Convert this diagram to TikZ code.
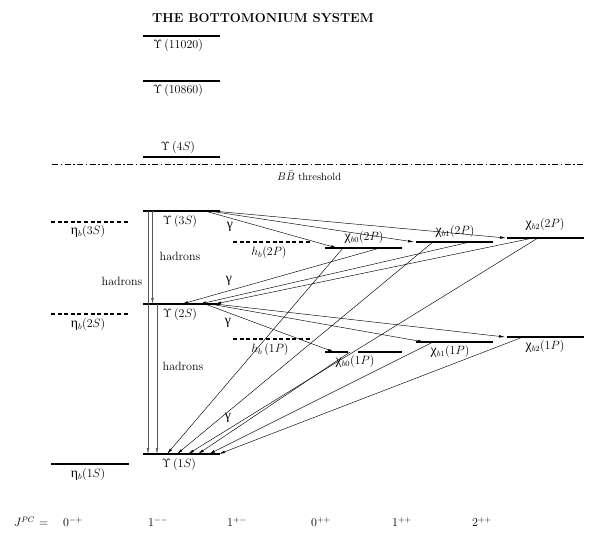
\documentclass[tikz,border=0pt]{standalone}
\usepackage{fontspec}
\newfontfamily\grk[Scale=1.15]{Liberation Serif}
\usetikzlibrary{arrows.meta,calc}
\tikzset{
  lvl/.style={line width=1.3pt},
  dlvl/.style={line width=1.3pt, dash pattern=on 4pt off 2.6pt},
  thr/.style={line width=0.6pt, dash pattern=on 6pt off 2.5pt on 1.5pt off 2.5pt},
  trans/.style={line width=0.45pt, -{Latex[length=6pt,width=2.6pt]}},
  had/.style={line width=0.4pt, draw=black!65, -{Latex[length=6pt,width=2.6pt]}},
  lab/.style={font=\fontsize{12}{14}\selectfont, inner sep=0pt},
  slab/.style={font=\fontsize{10.5}{12}\selectfont, inner sep=0pt},
  ttl/.style={font=\fontsize{13}{16}\selectfont\bfseries, inner sep=0pt},
}
\begin{document}
\begin{tikzpicture}[x=1pt,y=1pt]
\useasboundingbox (0,0) rectangle (595,542);
% ---- level coordinates
\coordinate (uAL) at (143,506); \coordinate (uAR) at (220,506);
\coordinate (uBL) at (143,461); \coordinate (uBR) at (220,461);
\coordinate (u4L) at (143,385); \coordinate (u4R) at (220,385);
\coordinate (thL) at (52,378);  \coordinate (thR) at (583,378);
\coordinate (u3L) at (143,331); \coordinate (u3R) at (220,331);
\coordinate (e3L) at (51,320);  \coordinate (e3R) at (129,320);
\coordinate (h2L) at (233,300); \coordinate (h2R) at (311,300);
\coordinate (c02L) at (325,294); \coordinate (c02R) at (402,294);
\coordinate (c12L) at (416,300); \coordinate (c12R) at (493,300);
\coordinate (c22L) at (507,304); \coordinate (c22R) at (584,304);
\coordinate (u2L) at (143,238); \coordinate (u2R) at (220,238);
\coordinate (e2L) at (51,228);  \coordinate (e2R) at (129,228);
\coordinate (h1L) at (233,203); \coordinate (h1R) at (310,203);
\coordinate (c01L) at (325,190); \coordinate (c01g) at (348,190);
\coordinate (c01h) at (358,190); \coordinate (c01R) at (402,190);
\coordinate (c11L) at (416,200); \coordinate (c11R) at (493,200);
\coordinate (c21L) at (507,205); \coordinate (c21R) at (584,205);
\coordinate (u1L) at (143,88);  \coordinate (u1R) at (220,88);
\coordinate (e1L) at (51,78);   \coordinate (e1R) at (129,78);
% ---- levels
\draw[lvl] (uAL) -- (uAR);
\draw[lvl] (uBL) -- (uBR);
\draw[lvl] (u4L) -- (u4R);
\draw[thr] (thL) -- (thR);
\draw[lvl] (u3L) -- (u3R);
\draw[dlvl] (e3L) -- (e3R);
\draw[dlvl] (h2L) -- (h2R);
\draw[lvl] (c02L) -- (c02R);
\draw[lvl] (c12L) -- (c12R);
\draw[lvl] (c22L) -- (c22R);
\draw[lvl] (u2L) -- (u2R);
\draw[dlvl] (e2L) -- (e2R);
\draw[dlvl] (h1L) -- (h1R);
\draw[lvl] (c01L) -- (c01g);
\draw[lvl] (c01h) -- (c01R);
\draw[lvl] (c11L) -- (c11R);
\draw[lvl] (c21L) -- (c21R);
\draw[lvl] (u1L) -- (u1R);
\draw[lvl] (e1L) -- (e1R);
% ---- transition end points
\coordinate (s3a) at (205,331); \coordinate (s3b) at (209,331); \coordinate (s3c) at (213,331);
\coordinate (t02) at (337,294); \coordinate (t12) at (414,300); \coordinate (t22) at (506,304);
\coordinate (f02) at (380,294); \coordinate (f12) at (470,300); \coordinate (f22) at (533,304);
\coordinate (a2a) at (182,238); \coordinate (a2b) at (200,238); \coordinate (a2c) at (215,238);
\coordinate (g02) at (343,294); \coordinate (g12) at (433,300); \coordinate (g22) at (538,304);
\coordinate (g01) at (350,190); \coordinate (g11) at (433,200); \coordinate (g21) at (523,205);
\coordinate (a1a) at (167,88); \coordinate (a1b) at (177,88); \coordinate (a1c) at (188,88);
\coordinate (a1d) at (198,88); \coordinate (a1e) at (209,88); \coordinate (a1f) at (219,88);
\coordinate (s2a) at (205,238); \coordinate (s2b) at (210,238); \coordinate (s2c) at (215,238);
\coordinate (t01) at (334,190); \coordinate (t11) at (424,200); \coordinate (t21) at (505,205);
\coordinate (v3a) at (148,331); \coordinate (v1a) at (148,88);
\coordinate (v3b) at (152.5,331); \coordinate (v2b) at (152.5,238);
\coordinate (v2c) at (157,238); \coordinate (v1c) at (157,88);
% ---- transitions
\draw[trans] (s3a) -- (t02);
\draw[trans] (s3b) -- (t12);
\draw[trans] (s3c) -- (t22);
\draw[trans] (f02) -- (a2a);
\draw[trans] (f12) -- (a2b);
\draw[trans] (f22) -- (a2c);
\draw[trans] (g02) -- (a1a);
\draw[trans] (g12) -- (a1b);
\draw[trans] (g22) -- (a1c);
\draw[trans] (g01) -- (a1d);
\draw[trans] (g11) -- (a1e);
\draw[trans] (g21) -- (a1f);
\draw[trans] (s2a) -- (t01);
\draw[trans] (s2b) -- (t11);
\draw[trans] (s2c) -- (t21);
\draw[had] (v3a) -- (v1a);
\draw[had] (v3b) -- (v2b);
\draw[had] (v2c) -- (v1c);
% ---- labels
\node[ttl, anchor=west] (title) at (152,524) {THE BOTTOMONIUM SYSTEM};
\node[lab] (luA) at (178,496) {$\Upsilon\,$(11020)};
\node[lab] (luB) at (178,451) {$\Upsilon\,$(10860)};
\node[lab] (lu4) at (178,394) {$\Upsilon\,$(4$S$)};
\node[slab, anchor=west] (lth) at (277,366) {$B\bar{B}$ threshold};
\node[lab] (lu3) at (180,320) {$\Upsilon\,$(3$S$)};
\node[lab] (le3) at (88,310) {{\grk η}$_b$(3$S$)};
\node[lab] (lh2) at (269,289) {$h_b$(2$P$)};
\node[lab] (lc02) at (364,304) {{\grk χ}$_{b0}$(2$P$)};
\node[lab] (lc12) at (455,310) {{\grk χ}$_{b1}$(2$P$)};
\node[lab] (lc22) at (545,317) {{\grk χ}$_{b2}$(2$P$)};
\node[lab] (lg1) at (230,315) {{\grk γ}};
\node[lab] (lhad1) at (180,286) {hadrons};
\node[lab] (lhad2) at (122,261) {hadrons};
\node[lab] (lg2) at (229,261) {{\grk γ}};
\node[lab] (lu2) at (180,227) {$\Upsilon\,$(2$S$)};
\node[lab] (le2) at (88,217) {{\grk η}$_b$(2$S$)};
\node[lab] (lg3) at (228,219) {{\grk γ}};
\node[lab] (lh1) at (270,192) {$h_b\,$(1$P$)};
\node[lab] (lc01) at (355,180) {{\grk χ}$_{b0}$(1$P$)};
\node[lab] (lc11) at (450,190) {{\grk χ}$_{b1}$(1$P$)};
\node[lab] (lc21) at (545,195) {{\grk χ}$_{b2}$(1$P$)};
\node[lab] (lhad3) at (183,176) {hadrons};
\node[lab] (lg4) at (228,124) {{\grk γ}};
\node[lab] (lu1) at (179,77) {$\Upsilon\,$(1$S$)};
\node[lab] (le1) at (88,67) {{\grk η}$_b$(1$S$)};
% ---- J^PC row
\node[lab] (jpc) at (31,20) {$J^{PC}$ =};
\node[lab] (q1) at (73,20) {$0^{-+}$};
\node[lab] (q2) at (158,20) {$1^{--}$};
\node[lab] (q3) at (237,20) {$1^{+-}$};
\node[lab] (q4) at (321,20) {$0^{++}$};
\node[lab] (q5) at (402,20) {$1^{++}$};
\node[lab] (q6) at (482,20) {$2^{++}$};
\end{tikzpicture}
\end{document}
